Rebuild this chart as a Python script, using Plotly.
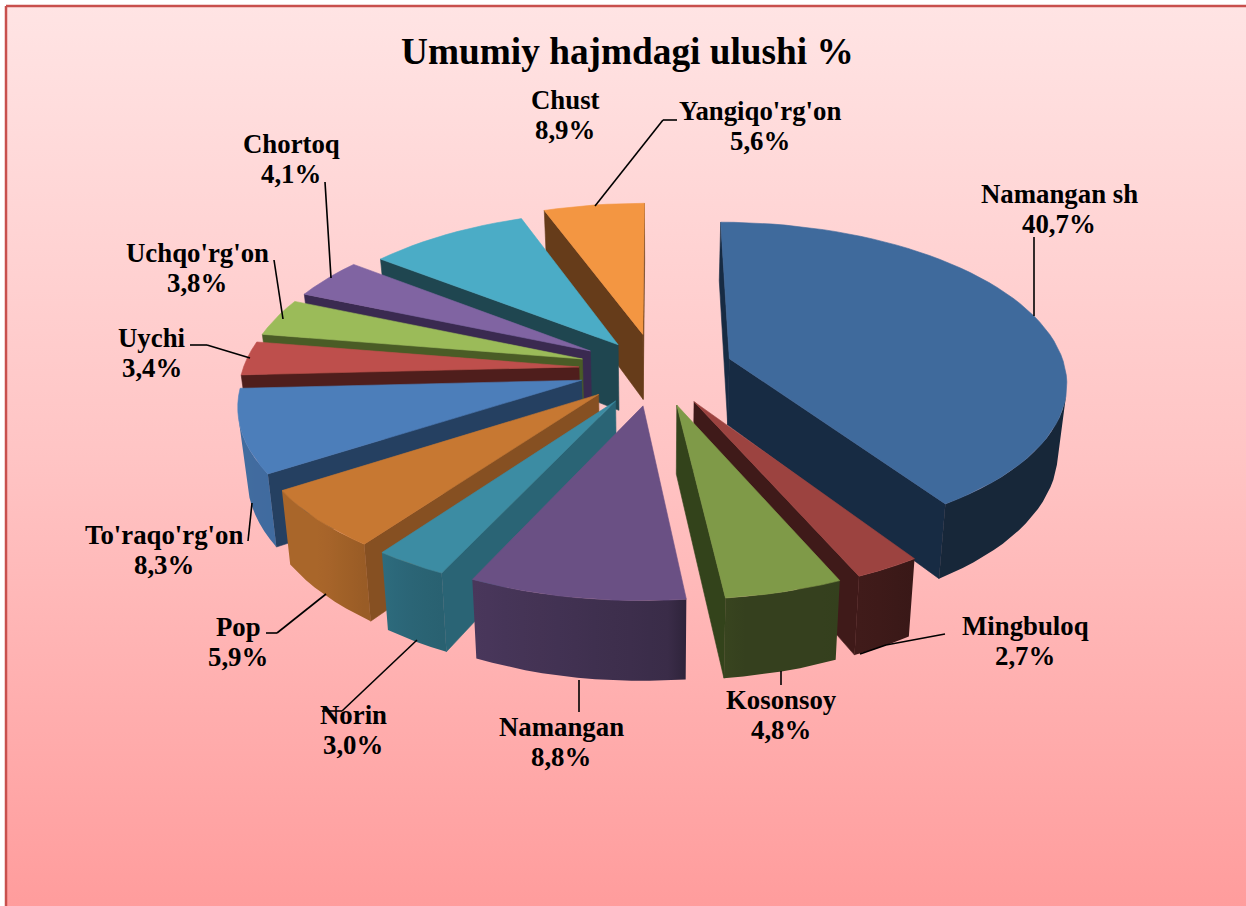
import numpy as np
import plotly.graph_objects as go

# ---- data ----
categories = ["Namangan sh", "Mingbuloq", "Kosonsoy", "Namangan", "Norin", "Pop",
              "To'raqo'rg'on", "Uychi", "Uchqo'rg'on", "Chortoq", "Chust", "Yangiqo'rg'on"]
values = [40.7, 2.7, 4.8, 8.8, 3.0, 5.9, 8.3, 3.4, 3.8, 4.1, 8.9, 5.6]
value_labels = ["40,7%", "2,7%", "4,8%", "8,8%", "3,0%", "5,9%", "8,3%", "3,4%", "3,8%", "4,1%", "8,9%", "5,6%"]
explode = [0.23, 0.23, 0.23, 0.23, 0.23, 0.23, 0.23, 0.23, 0.23, 0.23, 0.195, 0.23]
top_colors = ["#3F6A9C", "#9C4340", "#7F9A48", "#6A5084", "#3C8CA3", "#C77832",
              "#4C7EBA", "#BE4F4C", "#9BBB59", "#8064A2", "#4BACC6", "#F39642"]
wall_colors = ["#172B43", "#3F1A19", "#33431B", "#3A2A4C", "#2A6475", "#865022",
               "#254061", "#4F1E1C", "#4A5C26", "#3A2A50", "#1F4650", "#663C1A"]
title_text = "Umumiy hajmdagi ulushi %"

# ---- projection of the tilted pie (page pixels) ----
W, H = 1246, 906
CX, CY, A, B, P, DEPTH, BOTTOM_X = 656, 369, 336, 157.5, 0.135, 67, 0.978


def project(X, Y, low=False):
    w = 1 + P * Y
    x = A * X / w
    y = -B * Y / w
    if low:
        return CX + x * BOTTOM_X, CY + y + DEPTH / w
    return CX + x, CY + y


def scale_hex(c, f):
    r, g, b = int(c[1:3], 16), int(c[3:5], 16), int(c[5:7], 16)
    return "rgb(%d,%d,%d)" % (min(255, r * f), min(255, g * f), min(255, b * f))


def area(px, py):
    return 0.5 * sum(px[i] * py[(i + 1) % len(px)] - px[(i + 1) % len(px)] * py[i] for i in range(len(px)))


def poly(fig, px, py, color):
    fig.add_trace(go.Scatter(x=list(px) + [px[0]], y=list(py) + [py[0]], mode="lines", fill="toself",
                             fillcolor=color, line=dict(color=color, width=0.6), hoverinfo="skip"))


def shade(deg):
    return float(np.interp(deg, [60, 147, 157, 173, 176, 210, 225, 250, 300],
                           [0.37, 0.37, 0.42, 0.42, 0.55, 0.72, 0.85, 0.86, 0.82]))


fig = go.Figure()

# background panel with vertical gradient
fig.add_trace(go.Scatter(x=[6, W + 5, W + 5, 6, 6], y=[6, 6, H + 5, H + 5, 6], mode="lines", fill="toself",
                         line=dict(color="#C8504D", width=2.5), hoverinfo="skip",
                         fillgradient=dict(type="vertical",
                                           colorscale=[[0, "#FF9C9C"], [0.5, "#FFC4C4"], [1, "#FFE4E4"]])))

# slice geometry from the values
total = sum(values)
edges = np.cumsum([0] + values) / total * 2 * np.pi
slices = []
for i in range(len(values)):
    a0, a1 = edges[i], edges[i + 1]
    mid = (a0 + a1) / 2
    ox, oy = explode[i] * np.sin(mid), explode[i] * np.cos(mid)
    slices.append((i, a0, a1, ox, oy, np.cos(mid)))

# painter's order: farthest slice first
for i, a0, a1, ox, oy, depth_key in sorted(slices, key=lambda s: -s[5]):
    n = max(3, int((a1 - a0) / np.radians(2.5)))
    ang = np.linspace(a0, a1, n + 1)
    X = ox + np.sin(ang)
    Y = oy + np.cos(ang)
    tx, ty = project(X, Y)
    bx, by = project(X, Y, low=True)
    ax_t, ay_t = project(ox, oy)
    ax_b, ay_b = project(ox, oy, low=True)

    # radial walls, kept when they face the viewer
    qs = [([ax_t, tx[0], bx[0], ax_b], [ay_t, ty[0], by[0], ay_b]),
          ([tx[-1], ax_t, ax_b, bx[-1]], [ty[-1], ay_t, ay_b, by[-1]])]
    for qx, qy in qs:
        if area(qx, qy) < 0:
            poly(fig, qx, qy, wall_colors[i])

    # outer wall, lit from the left: one polygon with a horizontal gradient
    vis = [k for k in range(n)
           if area([tx[k], tx[k + 1], bx[k + 1], bx[k]], [ty[k], ty[k + 1], by[k + 1], by[k]]) < 0]
    if vis:
        idx = list(range(vis[0], vis[-1] + 2))
        px = [tx[k] for k in idx] + [bx[k] for k in reversed(idx)]
        py = [ty[k] for k in idx] + [by[k] for k in reversed(idx)]
        lo, hi = min(px), max(px)
        stops = sorted(((tx[k] - lo) / (hi - lo), scale_hex(top_colors[i], shade(np.degrees(ang[k])))) for k in idx)
        scale = [[0, stops[0][1]]] + [[max(0.0, min(1.0, s)), c] for s, c in stops if 0 < s < 1] + [[1, stops[-1][1]]]
        fig.add_trace(go.Scatter(x=px + [px[0]], y=py + [py[0]], mode="lines", fill="toself",
                                 line=dict(width=0), hoverinfo="skip",
                                 fillgradient=dict(type="horizontal", colorscale=scale)))

    # top face
    poly(fig, [ax_t] + list(tx), [ay_t] + list(ty), top_colors[i])

# leader lines (label furniture, page pixels)
leaders = [
    [(1034, 237), (1034, 316)],
    [(945, 634), (886, 645), (860, 654)],
    [(781, 685), (781, 671)],
    [(579, 712), (579, 680)],
    [(417, 640), (342, 711), (322, 711)],
    [(326, 594), (277, 633), (266, 633)],
    [(252, 503), (248, 541)],
    [(250, 358), (207, 345), (190, 345)],
    [(283, 319), (274, 260)],
    [(331, 278), (325, 182)],
    [(595, 206), (663, 120), (677, 120)],
]
shapes = []
for pts in leaders:
    for p, q in zip(pts[:-1], pts[1:]):
        shapes.append(dict(type="line", xref="x", yref="y", x0=p[0], y0=p[1], x1=q[0], y1=q[1],
                           line=dict(color="black", width=1.6), layer="above"))

# label centres
label_xy = [(1059, 209), (1025, 641), (781, 715), (561, 742), (353, 730), (238, 641.5),
            (164, 550), (152, 352.5), (197, 268), (291, 158.5), (565, 115), (760, 126)]
LINE_GAP = 15
annots = []
label_font = dict(family="Liberation Serif", size=26.8, color="black")
for c, v, (lx, ly) in zip(categories, value_labels, label_xy):
    annots.append(dict(x=lx, y=ly - LINE_GAP, xref="x", yref="y", text="<b>%s</b>" % c, showarrow=False, font=label_font))
    annots.append(dict(x=lx, y=ly + LINE_GAP, xref="x", yref="y", text="<b>%s</b>" % v, showarrow=False, font=label_font))
annots.append(dict(x=627, y=51, xref="x", yref="y", text="<b>%s</b>" % title_text, showarrow=False,
                   font=dict(family="Liberation Serif", size=37.3, color="black")))

fig.update_layout(
    width=W, height=H, margin=dict(l=0, r=0, t=0, b=0), showlegend=False,
    paper_bgcolor="white", plot_bgcolor="white",
    xaxis=dict(range=[0, W], visible=False, fixedrange=True),
    yaxis=dict(range=[H, 0], visible=False, fixedrange=True),
    shapes=shapes, annotations=annots,
)
fig.write_html("out.html", config=dict(displayModeBar=False),
               post_script="document.body.style.margin='0';document.body.style.overflow='hidden';")
